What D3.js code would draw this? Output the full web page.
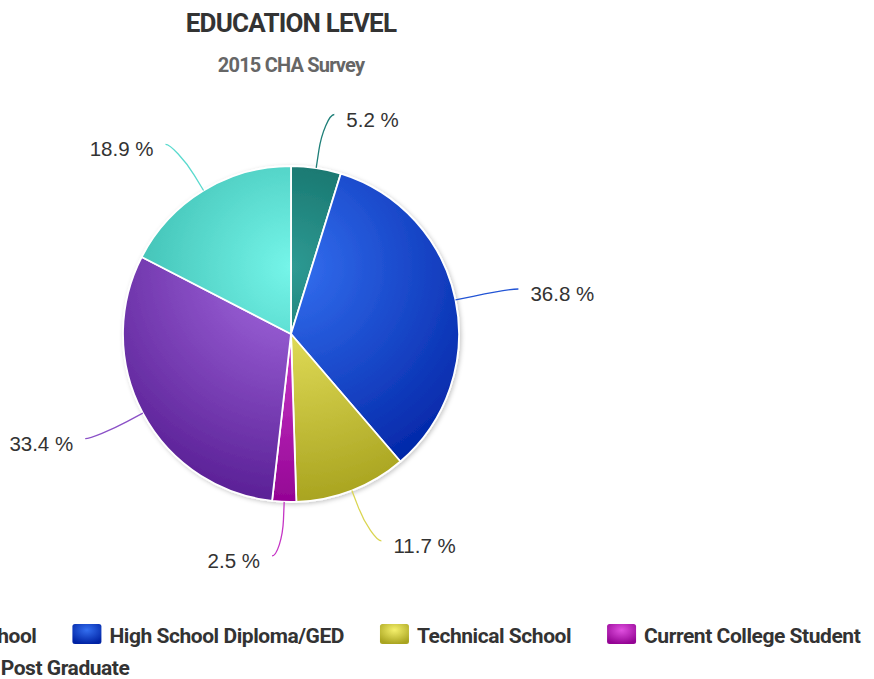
<!DOCTYPE html>
<html>
<head>
<meta charset="utf-8">
<script src="https://cdn.jsdelivr.net/npm/d3@7"></script>
<style>
  html, body { margin: 0; padding: 0; background: #fff; }
  svg { display: block; }
</style>
</head>
<body>
<svg id="chart" width="874" height="679"></svg>
<script>
// Education level shares, 2015 CHA Survey (respondents could fall in more than one group)
const categories = [
  "Less than High School",
  "High School Diploma/GED",
  "Technical School",
  "Current College Student",
  "Bachelor's",
  "Post Graduate"
];
const values = [5.2, 36.8, 11.7, 2.5, 33.4, 18.9];
const colors = ["#2E9A93", "#346FF0", "#F5F06C", "#E050E0", "#A66CE2", "#75F5E9"];
const titleText = "EDUCATION LEVEL";
const subtitleText = "2015 CHA Survey";

const width = 874, height = 679;
const cx = 291, cy = 334, radius = 168, labelRadius = 222;
const headFont = "Roboto, 'Noto Sans', sans-serif";
const labelFont = "'Liberation Sans', Arial, Helvetica, sans-serif";

const svg = d3.select("#chart");
const defs = svg.append("defs");

// darker end of each gradient: every channel lowered by 30% of full scale
function darker(c) {
  const r = d3.rgb(c), k = 76;
  return d3.rgb(Math.max(0, r.r - k), Math.max(0, r.g - k), Math.max(0, r.b - k)).formatHex();
}

colors.forEach((c, i) => {
  // slice gradients live in the pie group's coordinates (origin = pie centre)
  const g = defs.append("radialGradient")
    .attr("id", "slice-grad-" + i)
    .attr("gradientUnits", "userSpaceOnUse")
    .attr("cx", 0).attr("cy", -radius + 0.3 * 2 * radius)
    .attr("r", 0.7 * 2 * radius);
  g.append("stop").attr("offset", 0).attr("stop-color", c);
  g.append("stop").attr("offset", 1).attr("stop-color", darker(c));

  const s = defs.append("radialGradient")
    .attr("id", "sym-grad-" + i)
    .attr("cx", 0.5).attr("cy", 0.3).attr("r", 0.7);
  s.append("stop").attr("offset", 0).attr("stop-color", c);
  s.append("stop").attr("offset", 1).attr("stop-color", darker(c));
});

const shadow = defs.append("filter").attr("id", "pie-shadow")
  .attr("x", "-10%").attr("y", "-10%").attr("width", "120%").attr("height", "120%");
shadow.append("feDropShadow")
  .attr("dx", 1.5).attr("dy", 1.5).attr("stdDeviation", 2)
  .attr("flood-color", "#000").attr("flood-opacity", 0.22);

// Titles
svg.append("text")
  .attr("x", cx).attr("y", 32)
  .attr("text-anchor", "middle")
  .style("font-family", headFont).style("font-weight", "700")
  .style("font-size", "26px").style("letter-spacing", "-0.8px")
  .style("fill", "#333333")
  .text(titleText);

svg.append("text")
  .attr("x", cx).attr("y", 72)
  .attr("text-anchor", "middle")
  .style("font-family", headFont).style("font-weight", "700")
  .style("font-size", "20px").style("letter-spacing", "-0.8px")
  .style("fill", "#666666")
  .text(subtitleText);

// Pie
const pie = d3.pie().sort(null).value(d => d);
const arcs = pie(values);
const arc = d3.arc().innerRadius(0).outerRadius(radius);

const pieG = svg.append("g")
  .attr("transform", `translate(${cx},${cy})`)
  .attr("filter", "url(#pie-shadow)");
pieG.selectAll("path").data(arcs).join("path")
  .attr("d", arc)
  .attr("fill", (d, i) => `url(#slice-grad-${i})`)
  .attr("stroke", "#ffffff").attr("stroke-width", 1.8).attr("stroke-linejoin", "round");

// Data labels with soft connectors
const connectorOffset = 18;
const labelsG = svg.append("g");
arcs.forEach((a, i) => {
  const mid = (a.startAngle + a.endAngle) / 2;
  const sx = Math.sin(mid), sy = -Math.cos(mid);
  const side = sx >= 0 ? 1 : -1;
  const E = [cx + radius * sx, cy + radius * sy];
  const B = [cx + (radius + connectorOffset) * sx, cy + (radius + connectorOffset) * sy];
  const P = [cx + labelRadius * sx, cy + labelRadius * sy];
  const path = d3.path();
  path.moveTo(P[0] + 10 * side, P[1]);
  path.bezierCurveTo(P[0] + 5 * side, P[1], 2 * B[0] - E[0], 2 * B[1] - E[1], B[0], B[1]);
  path.lineTo(E[0], E[1]);
  labelsG.append("path")
    .attr("d", path.toString())
    .attr("fill", "none")
    .attr("stroke", d3.interpolateRgb(colors[i], darker(colors[i]))(0.35))
    .attr("stroke-width", 1.3);
  labelsG.append("text")
    .attr("x", P[0] + 22 * side).attr("y", P[1] + 12)
    .attr("text-anchor", side > 0 ? "start" : "end")
    .style("font-family", labelFont).style("font-size", "20.5px")
    .style("fill", "#333333")
    .text(d3.format(".1f")(values[i]) + " %");
});

// Legend: items flow left to right and wrap into rows
const legend = {
  x0: -202, row1Baseline: 643, lineHeight: 32,
  symbolW: 29, symbolH: 20, symbolPad: 8, itemDistance: 36, maxWidth: 1150
};
const legendG = svg.append("g");
let itemX = legend.x0, row = 0;
categories.forEach((name, i) => {
  const t = legendG.append("text")
    .style("font-family", headFont).style("font-weight", "700")
    .style("font-size", "21px").style("letter-spacing", "-0.45px")
    .style("fill", "#333333")
    .text(name);
  const tw = t.node().getComputedTextLength();
  const itemW = legend.symbolW + legend.symbolPad + tw;
  if (itemX > legend.x0 && itemX + itemW > legend.x0 + legend.maxWidth) {
    row += 1;
    itemX = legend.x0;
  }
  const base = legend.row1Baseline + row * legend.lineHeight;
  legendG.insert("rect", "text")
    .attr("x", itemX).attr("y", base - 19)
    .attr("width", legend.symbolW).attr("height", legend.symbolH)
    .attr("rx", 2.5)
    .attr("fill", `url(#sym-grad-${i})`);
  t.attr("x", itemX + legend.symbolW + legend.symbolPad).attr("y", base);
  itemX += itemW + legend.itemDistance;
});
</script>
</body>
</html>
